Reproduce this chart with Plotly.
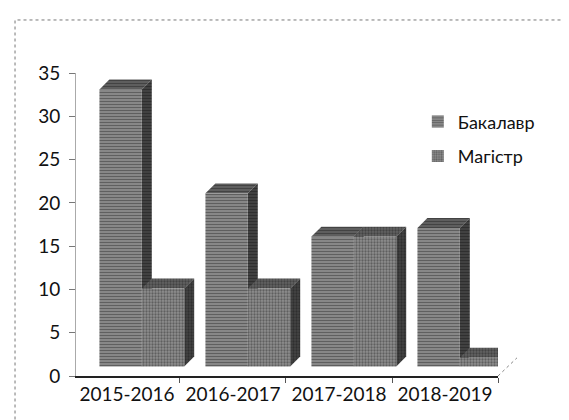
import plotly.graph_objects as go

categories = ["2015-2016", "2016-2017", "2017-2018", "2018-2019"]
bachelor = [32, 20, 15, 16]
master = [9, 9, 15, 1]
series_names = ["Бакалавр", "Магістр"]
y_ticks = [0, 5, 10, 15, 20, 25, 30, 35]

# pseudo-3D geometry (in axis units)
BAR_W = 0.40
OFFSETS = [-0.06, 0.34]
DX, DY = 0.094, 1.15     # depth of the boxes
GAP = 1.1                # floor gap in front of the boxes

SHAPES = ["-", "."]
FRONT = dict(bg="#8e8e8e", fg="#303030")
SIDE = dict(bg="#444444", fg="#1a1a1a")
TOP = dict(bg="#626262", fg="#242424")

fig = go.Figure()


def poly(xs, ys, style, shape):
    fig.add_trace(go.Scatter(
        x=xs + [xs[0]], y=ys + [ys[0]], mode="lines", fill="toself",
        fillcolor=style["bg"], line=dict(width=0, color=style["bg"]),
        fillpattern=dict(shape=shape, fgcolor=style["fg"], bgcolor=style["bg"],
                         size=3, solidity=0.45, fillmode="overlay"),
        showlegend=False, hoverinfo="skip"))


for i, cat in enumerate(categories):
    for s, vals in enumerate([bachelor, master]):
        h = vals[i]
        x0 = i + OFFSETS[s] - BAR_W / 2
        x1 = x0 + BAR_W
        y0, y1 = GAP, GAP + h
        poly([x0, x0 + DX, x1 + DX, x1], [y1, y1 + DY, y1 + DY, y1], TOP, SHAPES[s])
        poly([x1, x1, x1 + DX, x1 + DX], [y0, y1, y1 + DY, y0 + DY], SIDE, SHAPES[s])
        poly([x0, x0, x1, x1], [y0, y1, y1, y0], FRONT, SHAPES[s])

# legend entries
for s, name in enumerate(series_names):
    fig.add_trace(go.Bar(
        x=[None], y=[None], name=name, legendgroup=name,
        marker=dict(color=FRONT["bg"], line=dict(width=0),
                    pattern=dict(shape=SHAPES[s], fgcolor=FRONT["fg"], bgcolor=FRONT["bg"],
                                 size=3, solidity=0.45))))

n = len(categories)
fig.update_layout(
    width=569, height=420,
    margin=dict(l=68, r=79, t=65, b=52),
    paper_bgcolor="white", plot_bgcolor="white",
    font=dict(family="Lato, Open Sans, sans-serif", size=19, color="#111"),
    showlegend=True,
    legend=dict(x=0.81, y=0.90, xanchor="left", yanchor="top",
                bgcolor="rgba(0,0,0,0)", tracegroupgap=8,
                font=dict(size=18), itemwidth=30),
    xaxis=dict(range=[-0.481, n - 0.5], tickmode="array",
               tickvals=list(range(n)), ticktext=categories,
               ticks="", showgrid=False, zeroline=False,
               showline=True, linecolor="#222", linewidth=1.5,
               minor=dict(tickvals=[k - 0.5 for k in range(n + 1)],
                          ticks="outside", ticklen=5, tickcolor="#555"),
               fixedrange=True),
    yaxis=dict(range=[0, 35], tickmode="array", tickvals=y_ticks,
               ticks="outside", ticklen=6, tickcolor="#777",
               ticklabelstandoff=5,
               showgrid=False, zeroline=False,
               showline=True, linecolor="#aaa", linewidth=1,
               fixedrange=True),
)

# floor depth line at the right end
fig.add_shape(type="line", xref="paper", yref="paper",
              x0=1.0, y0=0.0, x1=1.045, y1=0.06,
              line=dict(color="#888", width=1, dash="dot"))
# dotted outer frame
fig.add_shape(type="rect", xref="paper", yref="paper",
              x0=-0.1445, x1=1.5, y0=-0.5, y1=1.175,
              line=dict(color="#777", width=1, dash="dot"))

fig.write_html("out.html")
